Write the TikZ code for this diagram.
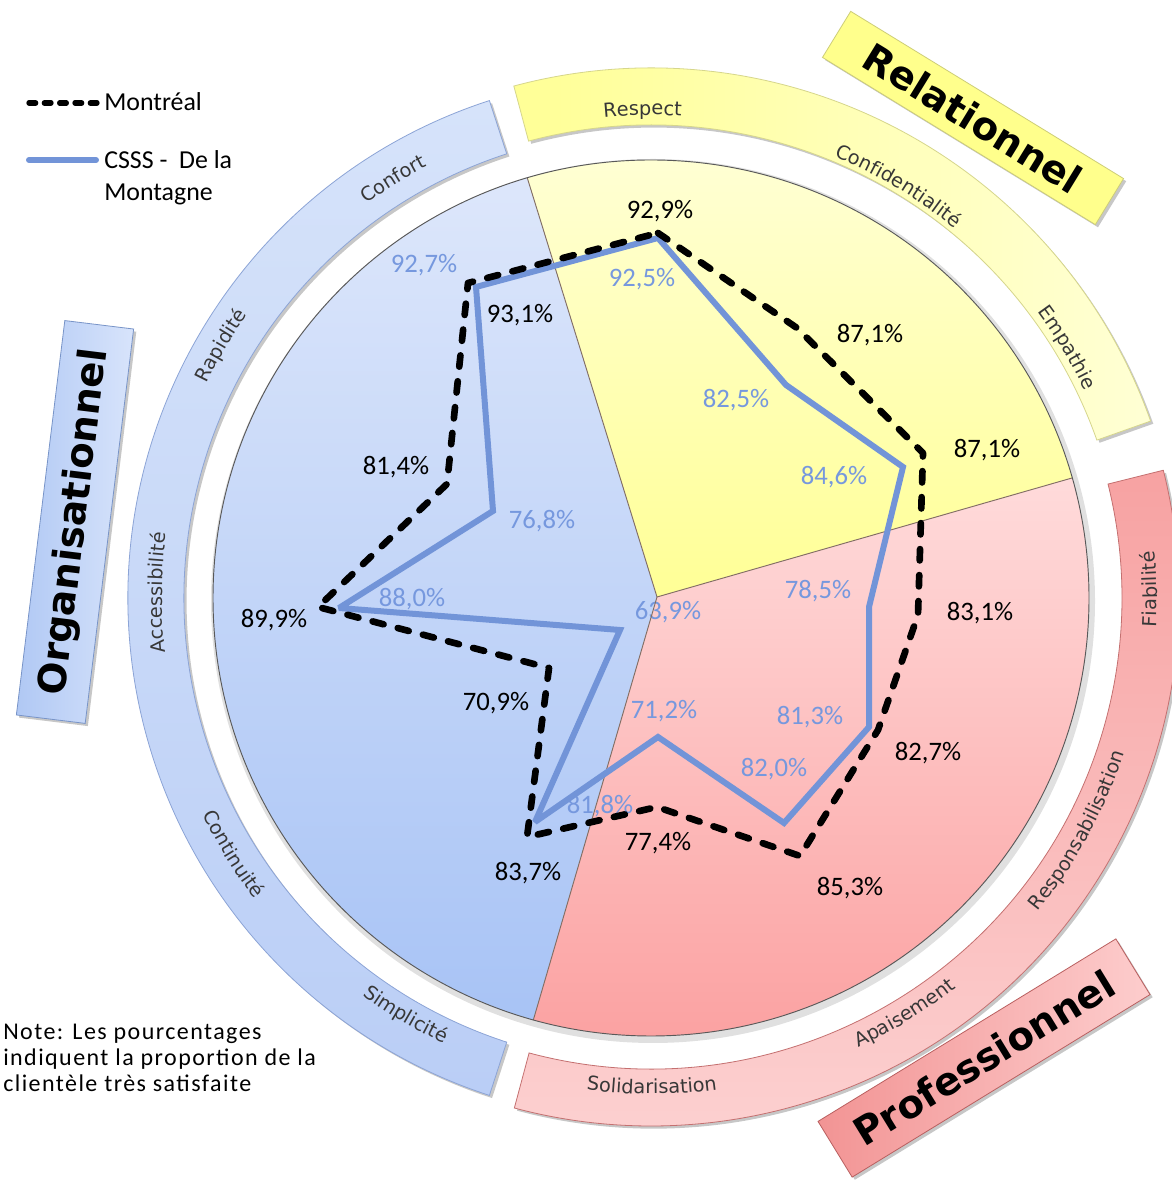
\documentclass[tikz,border=0pt]{standalone}
\usepackage{fontspec}
\setmainfont{Carlito}
\newfontfamily\dejavu{DejaVu Sans}
\newfontfamily\notefont{Carlito}[LetterSpace=6.0]
\usetikzlibrary{calc,shadows,decorations.text}
\definecolor{linecol}{RGB}{114,148,216}
\definecolor{labcol}{RGB}{118,152,222}
\definecolor{ringtxt}{RGB}{55,55,55}
\definecolor{ysTop}{RGB}{255,255,214}
\definecolor{ysBot}{RGB}{255,255,150}
\definecolor{bsTop}{RGB}{223,232,251}
\definecolor{bsBot}{RGB}{166,194,245}
\definecolor{rsTop}{RGB}{255,220,220}
\definecolor{rsBot}{RGB}{251,160,160}
\definecolor{bbTop}{RGB}{214,227,250}
\definecolor{bbBot}{RGB}{186,206,246}
\definecolor{bbEdge}{RGB}{140,164,214}
\definecolor{ybL}{RGB}{255,255,150}
\definecolor{ybR}{RGB}{255,255,212}
\definecolor{ybEdge}{RGB}{214,214,140}
\definecolor{rbTop}{RGB}{247,162,162}
\definecolor{rbBot}{RGB}{252,208,208}
\definecolor{rbEdge}{RGB}{196,112,112}
\definecolor{relFill}{RGB}{255,255,140}
\definecolor{relEdge}{RGB}{205,205,120}
\definecolor{orgL}{RGB}{176,200,244}
\definecolor{orgR}{RGB}{216,228,251}
\definecolor{orgEdge}{RGB}{120,148,200}
\definecolor{proL}{RGB}{242,148,148}
\definecolor{proR}{RGB}{253,205,205}
\definecolor{proEdge}{RGB}{185,95,95}
\definecolor{sepcol}{RGB}{130,110,100}
\begin{document}
\begin{tikzpicture}[x=0.75pt,y=0.75pt,
  montreal/.style={line width=5pt,dash pattern=on 8.5pt off 11pt,line cap=round,line join=round,black},
  csss/.style={line width=4.5pt,linecol,line join=miter,miter limit=2},
  klab/.style={font=\fontsize{20}{23}\selectfont,text=black,inner sep=0pt},
  blab/.style={font=\fontsize{20}{23}\selectfont,text=labcol,inner sep=0pt},
  bandshadow/.style={drop shadow={shadow xshift=2pt,shadow yshift=-2pt,opacity=0.22,fill=black}},
  titlebox/.style={font=\dejavu\bfseries\fontsize{29}{32}\selectfont,text=black,inner sep=0pt,line width=0.6pt,bandshadow},
  ring/.style={decorate,decoration={text along path,text align=center,text={|\dejavu\fontsize{14.5}{16}\selectfont\color{ringtxt}|#1}}}
]
\useasboundingbox (0,0) rectangle (1171,1180);
\fill[white] (0,0) rectangle (1171,1180);
\coordinate (O) at (651,582);
\coordinate (M) at (657,583);

% soft shadow of the disc
\fill[black,opacity=0.12] ($(O)+(2,-3)$) circle[radius=442];

% sectors
\begin{scope}
\clip (O) circle[radius=438];
\path[top color=ysTop,bottom color=ysBot] (M) -- ($(M)+(16:475)$) -- ($(M)+(45:475)$) -- ($(M)+(75:475)$) -- ($(M)+(107.2:475)$) -- cycle;
\path[top color=bsTop,bottom color=bsBot] (M) -- ($(M)+(107.2:475)$) -- ($(M)+(135:475)$) -- ($(M)+(165:475)$) -- ($(M)+(195:475)$) -- ($(M)+(225:475)$) -- ($(M)+(253.7:475)$) -- cycle;
\path[top color=rsTop,bottom color=rsBot] (M) -- ($(M)+(253.7:475)$) -- ($(M)+(285:475)$) -- ($(M)+(315:475)$) -- ($(M)+(345:475)$) -- ($(M)+(16:475)$) -- cycle;
\end{scope}

% data labels (under the lines)
\node[klab] (k1) at (660,969) {92,9\%};
\node[klab] (k2) at (870,845) {87,1\%};
\node[klab] (k3) at (987,730) {87,1\%};
\node[klab] (k4) at (980,567) {83,1\%};
\node[klab] (k5) at (928,427) {82,7\%};
\node[klab] (k6) at (850,292) {85,3\%};
\node[klab] (k7) at (658,337) {77,4\%};
\node[klab] (k8) at (528,307) {83,7\%};
\node[klab] (k9) at (496,477) {70,9\%};
\node[klab] (k10) at (274,560) {89,9\%};
\node[klab] (k11) at (396,713) {81,4\%};
\node[klab] (k12) at (520,865) {93,1\%};
\node[blab] (c1) at (642,901) {92,5\%};
\node[blab] (c2) at (736,780) {82,5\%};
\node[blab] (c3) at (834,703) {84,6\%};
\node[blab] (c4) at (818,589) {78,5\%};
\node[blab] (c5) at (810,463) {81,3\%};
\node[blab] (c6) at (774,411) {82,0\%};
\node[blab] (c7) at (664,469) {71,2\%};
\node[blab] (c8) at (600,374) {81,8\%};
\node[blab] (c9) at (668,568) {63,9\%};
\node[blab] (c10) at (412,581) {88,0\%};
\node[blab] (c11) at (542,659) {76,8\%};
\node[blab] (c12) at (424,915) {92,7\%};

% sector separators and rim
\begin{scope}
\clip (O) circle[radius=438];
\draw[sepcol,line width=0.7pt] (M) -- ($(M)+(107.2:470)$);
\draw[sepcol,line width=0.7pt] (M) -- ($(M)+(16:470)$);
\draw[sepcol,line width=0.7pt] (M) -- ($(M)+(253.7:470)$);
\end{scope}
\draw[gray!70!black,line width=0.7pt] (O) circle[radius=438];

% outer bands
\path[top color=bbTop,bottom color=bbBot,draw=bbEdge,line width=0.6pt,bandshadow]
  ($(O)+(108:523)$) arc[start angle=108,end angle=252,radius=523] -- ($(O)+(252:467)$) arc[start angle=252,end angle=108,radius=467] -- cycle;
\path[left color=ybL,right color=ybR,draw=ybEdge,line width=0.6pt,bandshadow]
  ($(O)+(105:530)$) arc[start angle=105,end angle=19.5,radius=530] -- ($(O)+(19.5:473)$) arc[start angle=19.5,end angle=105,radius=473] -- cycle;
\path[top color=rbTop,bottom color=rbBot,draw=rbEdge,line width=0.6pt,bandshadow]
  ($(O)+(14:528)$) arc[start angle=14,end angle=-105,radius=528] -- ($(O)+(-105:471)$) arc[start angle=-105,end angle=14,radius=471] -- cycle;

% band texts, set along the arcs
\path[ring=Respect] ($(O)+(116:483)$) arc[start angle=116,end angle=66,radius=483];
\path[ring=Confidentialité] ($(O)+(84:478)$) arc[start angle=84,end angle=34,radius=478];
\path[ring=Empathie] ($(O)+(56:481)$) arc[start angle=56,end angle=6,radius=481];
\path[ring=Confort] ($(O)+(146.6:486)$) arc[start angle=146.6,end angle=96.6,radius=486];
\path[ring=Rapidité] ($(O)+(174.6:493)$) arc[start angle=174.6,end angle=124.6,radius=493];
\path[ring=Accessibilité] ($(O)+(204.4:489)$) arc[start angle=204.4,end angle=154.4,radius=489];
\path[ring=Fiabilité] ($(O)+(-24:506)$) arc[start angle=-24,end angle=26,radius=506];
\path[ring=Responsabilisation] ($(O)+(-53.6:498)$) arc[start angle=-53.6,end angle=-3.6,radius=498];
\path[ring=Apaisement] ($(O)+(-83.6:495)$) arc[start angle=-83.6,end angle=-33.6,radius=495];
\path[ring=Solidarisation] ($(O)+(-114.9:496)$) arc[start angle=-114.9,end angle=-64.9,radius=496];
\path[ring=Simplicité] ($(O)+(-145.5:491)$) arc[start angle=-145.5,end angle=-95.5,radius=491];
\path[ring=Continuité] ($(O)+(-173.5:498)$) arc[start angle=-173.5,end angle=-123.5,radius=498];

% category titles
\node[titlebox,rotate=-31.5,fill=relFill,draw=relEdge,minimum width=240pt,minimum height=40.5pt] (rel) at (973,1062) {Relationnel};
\node[titlebox,rotate=83,left color=orgL,right color=orgR,draw=orgEdge,minimum width=298pt,minimum height=52pt] (org) at (75,658) {Organisationnel};
\node[titlebox,rotate=31.5,left color=proL,right color=proR,draw=proEdge,minimum width=262pt,minimum height=49pt] (pro) at (984,122) {Professionnel};

% radar vertices
\coordinate (b1) at (658,947);
\coordinate (b2) at (797,852);
\coordinate (b3) at (923,727);
\coordinate (b4) at (918,565);
\coordinate (b5) at (878,450);
\coordinate (b6) at (800,324);
\coordinate (b7) at (657,373);
\coordinate (b8) at (527,343);
\coordinate (b9) at (549,512);
\coordinate (b10) at (318,573);
\coordinate (b11) at (447,696);
\coordinate (b12) at (468,897);
\coordinate (s1) at (658,942);
\coordinate (s2) at (786,795);
\coordinate (s3) at (903,713);
\coordinate (s4) at (869,573);
\coordinate (s5) at (869,453);
\coordinate (s6) at (784,357);
\coordinate (s7) at (658,443);
\coordinate (s8) at (535,358);
\coordinate (s9) at (620,550);
\coordinate (s10) at (339,572);
\coordinate (s11) at (493,669);
\coordinate (s12) at (476,893);

\draw[csss] (s1) -- (s2) -- (s3) -- (s4) -- (s5) -- (s6) -- (s7) -- (s8) -- (s9) -- (s10) -- (s11) -- (s12) -- cycle;
\draw[montreal] (b1) -- (b2) -- (b3) -- (b4) -- (b5) -- (b6) -- (b7) -- (b8) -- (b9) -- (b10) -- (b11) -- (b12) -- cycle;

% legend
\coordinate (lgA1) at (29,1077);
\coordinate (lgA2) at (97,1077);
\coordinate (lgB1) at (29,1020);
\coordinate (lgB2) at (96,1020);
\draw[line width=4pt,dash pattern=on 5pt off 6.5pt,line cap=round,black] (lgA1) -- (lgA2);
\draw[line width=4.5pt,line cap=round,linecol] (lgB1) -- (lgB2);
\node[anchor=base west,inner sep=0pt,font=\fontsize{19.4}{22}\selectfont] (lgA) at (104,1069) {Montréal};
\node[anchor=base west,inner sep=0pt,font=\fontsize{19.4}{22}\selectfont] (lgB) at (104,1011) {CSSS -\ \ De la};
\node[anchor=base west,inner sep=0pt,font=\fontsize{19.4}{22}\selectfont] (lgC) at (104,979) {Montagne};

% note
\node[anchor=base west,inner sep=0pt,font=\notefont\fontsize{18}{19.5}\selectfont] (n1) at (3,140) {Note: Les pourcentages};
\node[anchor=base west,inner sep=0pt,font=\notefont\fontsize{18}{19.5}\selectfont] (n2) at (3,114) {indiquent la proportion de la};
\node[anchor=base west,inner sep=0pt,font=\notefont\fontsize{18}{19.5}\selectfont] (n3) at (3,88) {clientèle très satisfaite};
\end{tikzpicture}
\end{document}
